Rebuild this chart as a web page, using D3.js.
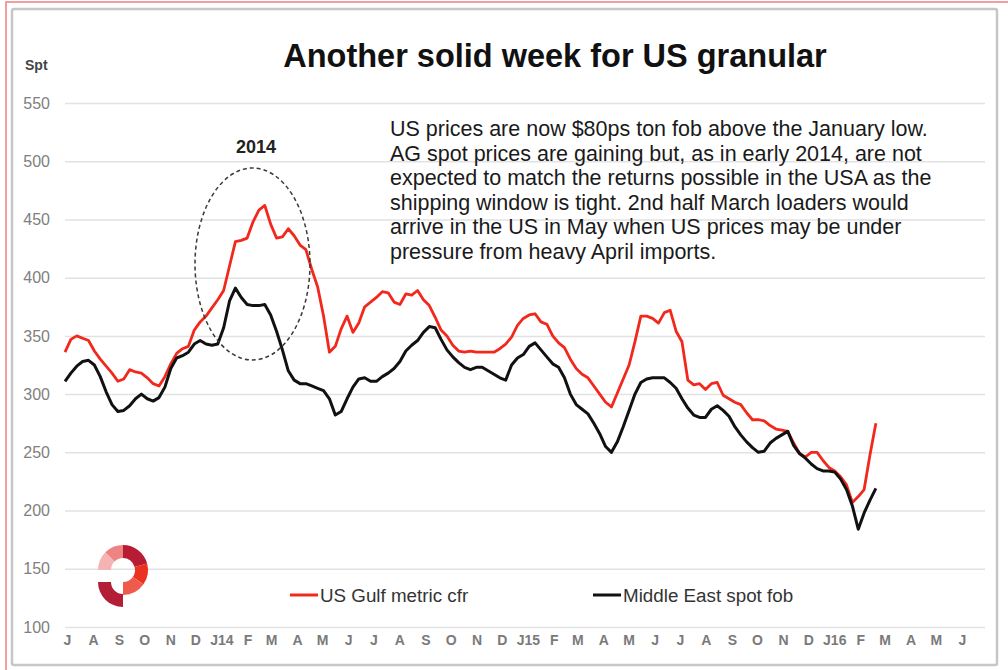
<!DOCTYPE html>
<html>
<head>
<meta charset="utf-8">
<script src="https://cdn.jsdelivr.net/npm/d3@7"></script>
<style>
body { margin: 0; background: #fff; }
svg text { font-family: "Liberation Sans", Arial, sans-serif; }
</style>
</head>
<body>
<div id="chart"></div>
<script>
// weekly series, first week starting 1 Jul 2013
var startDate = new Date(2013, 6, 1);
var endDate = new Date(2016, 6, 1);

var usGulf = [
	336, 347, 350, 348, 346, 337, 330, 324, 318, 311,
	313, 321, 319, 318, 314, 309, 307, 315, 326, 335,
	339, 341, 355, 362, 367, 374, 381, 389, 410, 431,
	432, 434, 448, 458, 462, 446, 434, 435, 442, 436,
	428, 424, 407, 392, 367, 336, 341, 356, 367, 353,
	361, 375, 379, 383, 388, 387, 379, 377, 386, 385,
	389, 381, 376, 366, 355, 350, 342, 337, 336, 337,
	336, 336, 336, 336, 339, 343, 349, 359, 365, 368,
	369, 362, 360, 350, 344, 340, 330, 322, 317, 314,
	307, 300, 293, 289, 301, 313, 325, 345, 367, 367,
	365, 361, 370, 372, 354, 345, 312, 308, 309, 304,
	309, 310, 299, 296, 293, 291, 284, 278, 278, 277,
	273, 270, 269, 268, 258, 249, 246, 250, 250, 243,
	237, 234, 229, 222, 207, 212, 218, 248, 275
];

var middleEast = [
	311, 318, 324, 328, 329, 325, 315, 302, 291, 285,
	286, 290, 296, 300, 296, 294, 297, 306, 322, 331,
	333, 336, 343, 346, 343, 342, 343, 357, 380, 391,
	383, 377, 376, 376, 377, 368, 354, 338, 320, 312,
	309, 309, 307, 305, 303, 296, 282, 285, 296, 306,
	313, 314, 311, 311, 315, 318, 322, 328, 337, 342,
	346, 353, 358, 357, 347, 338, 332, 327, 323, 321,
	323, 323, 320, 317, 314, 312, 325, 331, 334, 341,
	344, 338, 332, 326, 323, 314, 300, 291, 287, 283,
	275, 266, 255, 250, 259, 272, 286, 300, 310, 313,
	314, 314, 314, 310, 305, 296, 288, 282, 280, 280,
	287, 290, 286, 281, 272, 265, 259, 254, 250, 251,
	258, 262, 265, 268, 256, 249, 245, 240, 236, 234,
	234, 233, 227, 218, 204, 184, 198, 209, 219
];

var yTicks = [100, 150, 200, 250, 300, 350, 400, 450, 500, 550];
var monthLetters = ["J", "F", "M", "A", "M", "J", "J", "A", "S", "O", "N", "D"];
var seriesNames = ["US Gulf metric cfr", "Middle East spot fob"];
var seriesColors = ["#f2281c", "#111111"];

var noteLines = [
	"US prices are now $80ps ton fob above the January low.",
	"AG spot prices are gaining but, as in early 2014, are not",
	"expected to match the returns possible in the USA as the",
	"shipping window is tight. 2nd half March loaders would",
	"arrive in the US in May when US prices may be under",
	"pressure from heavy April imports."
];

var width = 1008, height = 670;

var svg = d3.select("#chart").append("svg")
	.attr("width", width)
	.attr("height", height);

// outer frames
svg.append("rect")
	.attr("x", 6).attr("y", 2)
	.attr("width", 1030).attr("height", 700)
	.attr("fill", "none")
	.attr("stroke", "#f07f7f")
	.attr("stroke-width", 1.5);

svg.append("rect")
	.attr("x", 12).attr("y", 9)
	.attr("width", 985).attr("height", 656)
	.attr("rx", 2)
	.attr("fill", "none")
	.attr("stroke", "#c6c6c6")
	.attr("stroke-width", 2.5);

var x = d3.scaleTime().domain([startDate, endDate]).range([65, 985]);
var y = d3.scaleLinear().domain([100, 550]).range([627, 103]);

// y axis + gridlines
var yAxis = svg.append("g")
	.attr("transform", "translate(65,0)")
	.call(d3.axisLeft(y).tickValues(yTicks).tickSize(-920).tickPadding(15));
yAxis.select(".domain").remove();
yAxis.selectAll("line").attr("stroke", "#e2e2e2").attr("stroke-width", 1.5);
yAxis.selectAll("text").attr("fill", "#808080").style("font-size", "16px");

// x axis month letters
var months = d3.timeMonth.range(startDate, endDate);
var xAxis = svg.append("g")
	.attr("transform", "translate(2,635)")
	.call(d3.axisBottom(x).tickValues(months).tickSize(0).tickPadding(0)
		.tickFormat(function(d){
			var m = d.getMonth();
			if(m == 0) return "J" + String(d.getFullYear()).slice(2);
			return monthLetters[m];
		}));
xAxis.select(".domain").remove();
xAxis.selectAll("text").attr("fill", "#7a7a7a").style("font-size", "14px").style("font-weight", "bold");

svg.append("text")
	.attr("x", 25).attr("y", 70)
	.attr("fill", "#444")
	.style("font-size", "14px")
	.style("font-weight", "bold")
	.text("Spt");

// series lines
var line = d3.line()
	.x(function(d, i){ return x(d3.timeDay.offset(startDate, i * 7)); })
	.y(function(d){ return y(d); });

[usGulf, middleEast].forEach(function(vals, k){
	svg.append("path")
		.datum(vals)
		.attr("fill", "none")
		.attr("stroke", seriesColors[k])
		.attr("stroke-width", k == 0 ? 2.8 : 3)
		.attr("stroke-linejoin", "round")
		.attr("d", line);
});

// 2014 highlight
svg.append("ellipse")
	.attr("cx", 252.5).attr("cy", 264)
	.attr("rx", 57.5).attr("ry", 96)
	.attr("fill", "none")
	.attr("stroke", "#3a3a3a")
	.attr("stroke-width", 1.5)
	.attr("stroke-dasharray", "4,3");

svg.append("text")
	.attr("x", 256).attr("y", 153)
	.attr("text-anchor", "middle")
	.attr("fill", "#222")
	.style("font-size", "18px")
	.style("font-weight", "bold")
	.text("2014");

// title
svg.append("text")
	.attr("x", 555).attr("y", 67)
	.attr("text-anchor", "middle")
	.attr("fill", "#111")
	.style("font-size", "32.5px")
	.style("font-weight", "bold")
	.text("Another solid week for US granular");

// commentary
svg.append("g").selectAll("text")
	.data(noteLines)
	.enter().append("text")
	.attr("x", 390)
	.attr("y", function(d, i){ return 136 + i * 24.6; })
	.attr("fill", "#1a1a1a")
	.style("font-size", "21.5px")
	.text(function(d){ return d; });

// legend
var legendPos = [[290, 595], [593, 595]];
seriesNames.forEach(function(name, k){
	var p = legendPos[k];
	svg.append("line")
		.attr("x1", p[0]).attr("x2", p[0] + 28)
		.attr("y1", p[1]).attr("y2", p[1])
		.attr("stroke", seriesColors[k])
		.attr("stroke-width", 3);
	svg.append("text")
		.attr("x", p[0] + 30).attr("y", p[1] + 6.5)
		.attr("fill", "#333")
		.style("font-size", "18.8px")
		.text(name);
});

// logo
var logo = svg.append("g").attr("transform", "translate(123,570)");
var logoArc = d3.arc().innerRadius(12).outerRadius(25);
var logoParts = [[-90, -45, "#f5b4b4"], [-45, 0, "#ee8383"], [0, 75, "#b71c34"], [75, 125, "#e9321f"], [125, 180, "#ee5a4c"]];
logoParts.forEach(function(p){
	logo.append("path")
		.attr("d", logoArc({startAngle: p[0] * Math.PI / 180, endAngle: p[1] * Math.PI / 180}))
		.attr("fill", p[2]);
});
logo.append("path")
	.attr("transform", "translate(0,12)")
	.attr("d", logoArc({startAngle: Math.PI, endAngle: 1.5 * Math.PI}))
	.attr("fill", "#b31d36");
</script>
</body>
</html>
